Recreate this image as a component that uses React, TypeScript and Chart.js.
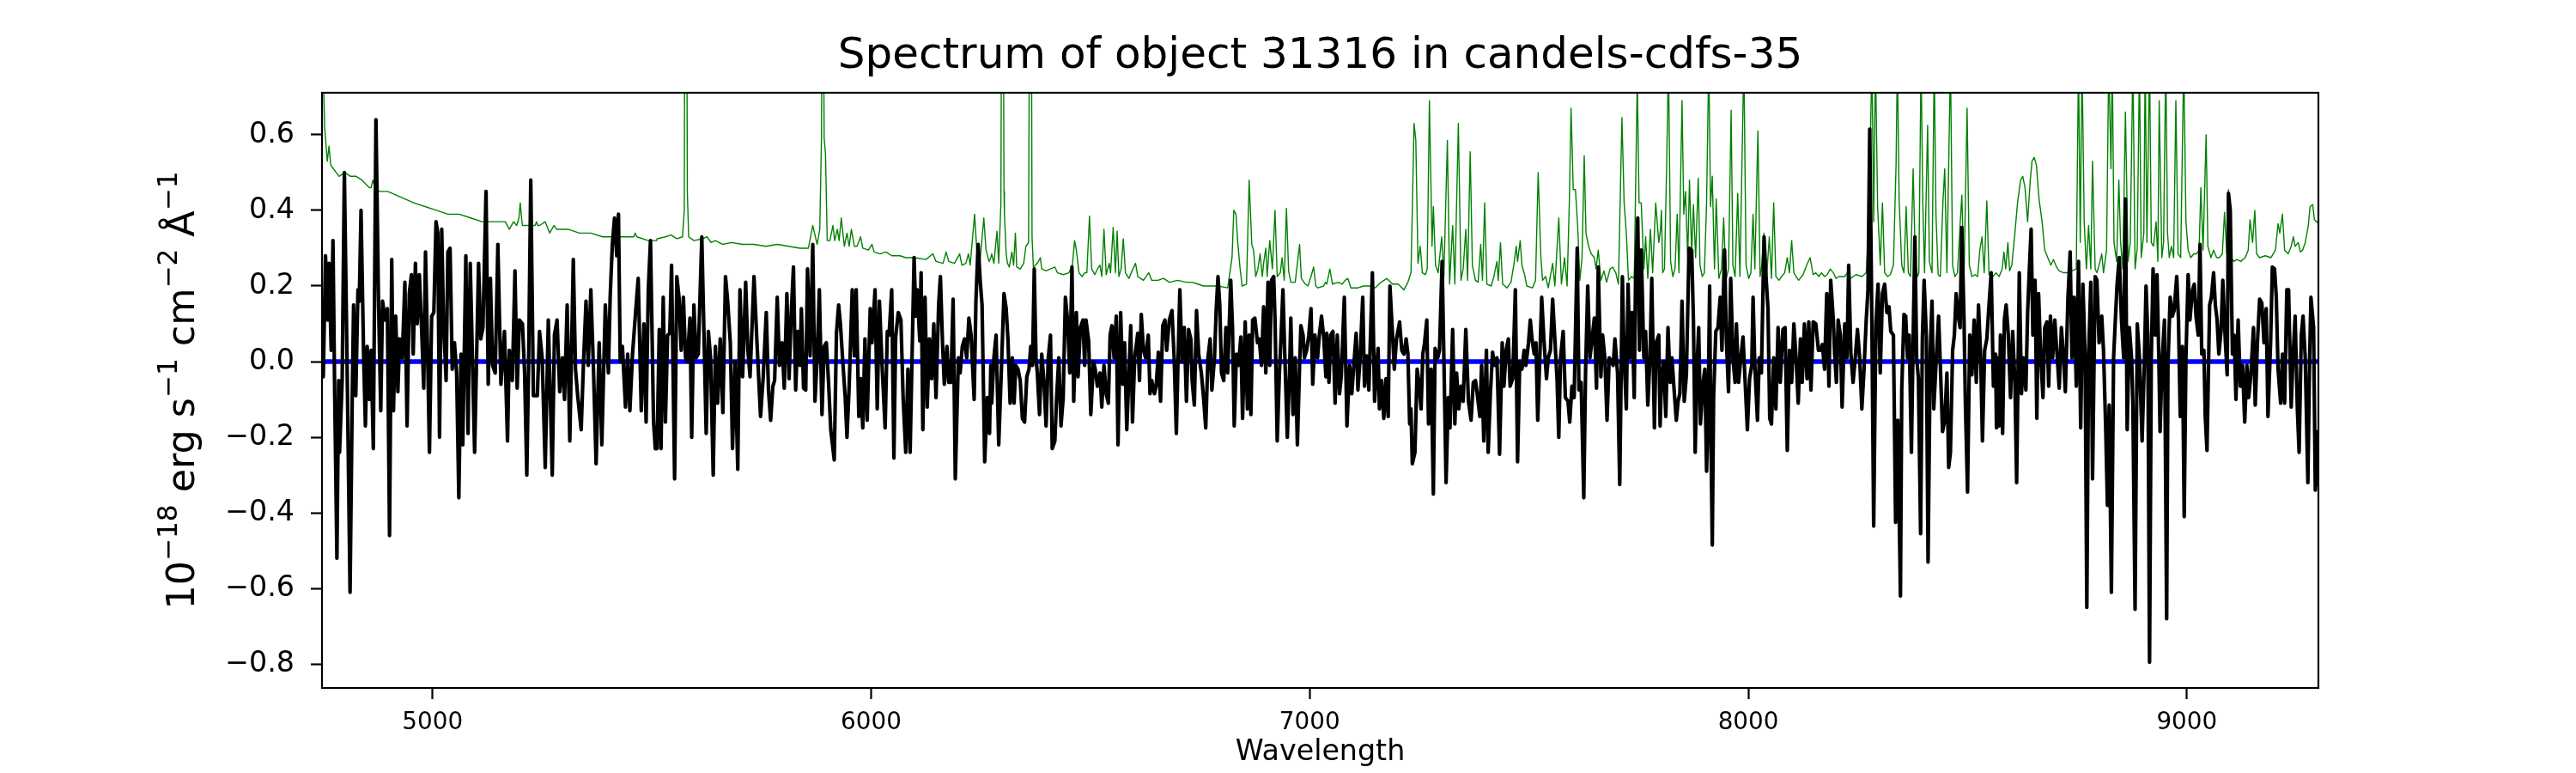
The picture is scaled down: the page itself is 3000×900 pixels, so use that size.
import { useEffect, useRef } from "react";
import { Chart, registerables } from "chart.js";

Chart.register(...registerables);

const FONT = "'DejaVu Sans', sans-serif";

const titleText: string = "Spectrum of object 31316 in candels-cdfs-35";
const xLabel: string = "Wavelength";
const xTickValues: number[] = [5000, 6000, 7000, 8000, 9000];
const yTickValues: number[] = [-0.8, -0.6, -0.4, -0.2, 0.0, 0.2, 0.4, 0.6];
const waveLimits: number[] = [4748, 9300];
const fluxLimits: number[] = [-0.863, 0.711];

// object flux (black), [wavelength, flux] in six pieces
const flux4750: [number, number][] = [
  [4748,0.01],[4751,-0.04],[4756,0.28],[4761,0.11],[4764,0.26],[4769,0.03],[4773,0.32],[4777,-0.09],[4782,-0.52],[4786,-0.05],
  [4788,-0.24],[4794,-0.05],[4799,0.50],[4805,0.01],[4812,-0.61],[4817,-0.09],[4820,0.15],[4825,-0.09],[4830,0.19],[4833,0.16],
  [4837,0.40],[4843,0.01],[4847,-0.17],[4851,0.04],[4856,-0.10],[4860,0.03],[4865,-0.23],[4871,0.64],[4877,0.15],[4882,-0.13],
  [4886,0.16],[4892,0.11],[4897,0.14],[4902,-0.46],[4907,0.27],[4911,-0.13],[4916,0.12],[4921,-0.08],[4925,0.06],[4931,0.01],
  [4937,0.21],[4942,-0.17],[4947,0.18],[4952,0.23],[4956,0.02],[4961,0.26],[4965,0.10],[4970,0.23],[4975,0.09],[4980,-0.07],
  [4984,0.29],[4989,0.01],[4993,-0.24],[4998,0.12],[5003,0.13],[5008,0.37],[5012,0.34],[5016,-0.20],[5021,0.35],[5025,0.11],
  [5031,-0.05],[5035,0.29],[5040,0.30],[5045,-0.02],[5050,0.05],[5055,-0.03],[5060,-0.36],[5065,0.02],[5069,-0.22],[5076,0.28],
  [5081,-0.19],[5086,0.26],[5091,0.01],[5096,-0.24],[5105,0.26],[5110,0.06],[5115,0.09],[5122,0.45],[5127,-0.06],[5132,0.22],
  [5137,-0.01],[5143,-0.03],[5149,0.31],[5156,-0.06],[5164,0.08],[5171,-0.21],[5175,0.03],[5182,-0.05],[5188,0.24],[5193,-0.07],
  [5198,0.11],[5205,0.10],[5210,-0.03],[5215,-0.30],[5219,-0.01],[5224,0.48],[5230,-0.09],[5234,-0.09],[5239,-0.09],[5244,0.08],
  [5250,0.01],[5257,-0.28],[5264,0.11],[5268,-0.07],[5273,-0.30],[5278,0.07],[5284,0.11],[5290,-0.08],[5296,0.01],[5301,-0.10],
  [5307,0.15],[5313,-0.21],[5321,0.27],[5326,-0.02],[5331,-0.09],[5339,-0.18],[5344,-0.01],[5350,0.16],[5355,-0.01],[5361,0.19],
  [5367,-0.02],[5373,-0.27],[5380,0.05],[5386,-0.22],[5394,0.15],[5401,-0.03],[5405,0.17],[5410,0.31],[5415,0.38],[5420,0.28],
  [5424,0.39],[5428,0.00],[5433,0.04],[5440,-0.12],[5445,0.02],[5450,-0.13],[5456,0.02],[5463,0.13],[5469,0.22],[5476,-0.13],
  [5482,0.10],[5487,-0.16],[5492,0.19],[5497,0.32],[5504,-0.16],[5508,-0.23],
];

const flux5500: [number, number][] = [
  [5512,-0.23],[5517,0.085],[5521,-0.23],[5526,0.17],[5531,-0.16],[5536,0.07],[5541,0.075],[5545,0.255],[5552,-0.31],[5557,0.225],
  [5562,0.17],[5567,0.03],[5572,0.17],[5577,0.01],[5581,0.0],[5587,0.115],[5591,-0.20],[5596,0.15],[5601,0.01],[5606,0.02],
  [5614,0.33],[5619,0.07],[5624,-0.19],[5629,0.08],[5634,0.01],[5640,-0.30],[5645,0.04],[5650,-0.11],[5656,0.06],[5662,-0.135],
  [5668,0.225],[5673,0.16],[5679,0.05],[5684,-0.23],[5690,0.0],[5696,-0.285],[5701,0.19],[5707,-0.04],[5714,0.21],[5719,0.03],
  [5724,-0.04],[5733,0.225],[5740,0.045],[5748,-0.145],[5754,-0.04],[5761,0.13],[5766,-0.075],[5771,-0.155],[5776,-0.065],[5780,-0.05],
  [5786,0.17],[5791,-0.01],[5797,0.05],[5802,-0.07],[5808,0.18],[5813,-0.045],[5818,0.13],[5823,0.25],[5828,-0.075],[5833,0.08],
  [5838,-0.01],[5841,0.14],[5846,-0.07],[5851,-0.075],[5855,0.245],[5861,0.015],[5867,0.31],[5872,-0.105],[5877,0.01],[5882,0.19],
  [5888,-0.14],[5893,0.04],[5898,0.05],[5903,-0.055],[5908,-0.18],[5916,-0.26],[5921,0.075],[5926,0.15],[5930,0.10],[5936,-0.01],
  [5941,-0.095],[5945,-0.20],[5950,-0.065],[5957,0.19],[5962,0.015],[5966,0.19],[5972,-0.145],[5976,-0.045],[5981,-0.175],[5986,0.06],
  [5991,-0.155],[5998,0.14],[6002,0.05],[6009,0.19],[6014,-0.125],[6019,0.16],[6025,-0.01],[6032,-0.175],[6037,0.08],[6041,0.07],
  [6047,0.19],[6052,-0.255],[6056,0.065],[6062,0.13],[6068,0.11],[6073,-0.095],[6079,-0.24],[6084,-0.02],[6089,-0.24],[6098,0.275],
  [6102,0.12],[6105,0.19],[6111,0.055],[6114,0.235],[6118,-0.18],[6123,0.17],[6128,-0.12],[6133,0.06],[6138,-0.045],[6143,0.10],
  [6148,-0.095],[6154,0.15],[6158,0.225],[6163,0.045],[6167,-0.06],[6173,0.04],[6177,-0.055],[6182,-0.055],[6187,0.165],[6192,-0.31],
  [6199,0.01],[6203,-0.03],[6208,0.04],[6213,0.06],[6218,0.01],[6223,0.115],[6228,0.07],[6235,-0.10],[6239,0.16],[6244,0.31],
  [6249,0.21],[6253,0.15],[6259,-0.265],[6265,-0.095],[6270,-0.19],[6273,-0.01],
];

const flux6275: [number, number][] = [
  [6275,-0.11],[6280,0.01],[6285,0.07],[6291,-0.22],[6298,0.01],[6303,0.18],[6308,0.14],[6312,0.06],[6317,-0.11],[6322,0.01],
  [6326,-0.11],[6330,-0.01],[6335,-0.02],[6340,-0.05],[6345,-0.15],[6350,-0.16],[6355,-0.04],[6360,-0.02],[6364,0.04],[6368,-0.01],
  [6372,0.245],[6376,0.01],[6379,-0.03],[6384,-0.14],[6389,0.02],[6394,-0.05],[6399,-0.17],[6404,0.01],[6409,0.07],[6413,-0.23],
  [6419,-0.21],[6423,-0.095],[6428,0.01],[6433,-0.17],[6438,-0.095],[6443,0.17],[6448,0.11],[6453,-0.03],[6458,0.25],[6462,-0.105],
  [6468,0.13],[6472,-0.04],[6477,0.09],[6483,0.11],[6487,-0.01],[6490,0.11],[6496,0.055],[6501,-0.14],[6507,0.0],[6511,-0.02],
  [6516,-0.065],[6522,-0.03],[6526,-0.12],[6531,-0.01],[6536,-0.085],[6541,-0.11],[6545,0.07],[6549,0.095],[6554,0.01],[6559,0.12],
  [6563,-0.22],[6569,0.13],[6574,-0.06],[6578,0.05],[6583,-0.18],[6588,-0.03],[6592,0.095],[6596,-0.16],[6601,0.01],[6608,0.075],
  [6612,-0.05],[6616,0.125],[6621,0.03],[6626,0.01],[6632,0.07],[6636,-0.085],[6640,-0.05],[6646,-0.085],[6650,-0.065],[6655,0.025],
  [6660,-0.105],[6665,0.095],[6670,0.11],[6674,0.03],[6680,0.11],[6686,0.135],[6691,0.01],[6696,-0.19],[6700,0.01],[6704,0.19],
  [6709,0.0],[6714,0.09],[6719,-0.105],[6724,0.085],[6729,0.06],[6732,-0.05],[6737,-0.115],[6742,0.135],[6747,0.02],[6753,-0.03],
  [6758,-0.095],[6763,-0.175],[6768,0.01],[6773,0.06],[6777,-0.075],[6783,0.01],[6787,0.14],[6791,0.225],[6795,0.15],[6799,-0.03],
  [6804,-0.05],[6809,0.09],[6813,-0.03],[6820,0.215],[6824,0.09],[6828,-0.17],[6833,0.02],[6838,-0.01],[6843,0.065],[6847,-0.15],
  [6853,0.105],[6858,-0.125],[6862,0.07],[6866,-0.14],[6870,0.11],[6875,0.115],[6881,0.05],[6885,0.06],[6890,-0.01],[6895,0.145],
  [6900,-0.03],[6905,0.21],[6909,-0.01],[6913,0.215],[6918,0.225],[6921,0.11],[6926,-0.21],[6931,-0.03],[6935,0.07],[6939,0.19],
  [6944,-0.01],[6949,-0.20],[6954,-0.03],[6957,0.115],[6962,-0.14],[6967,0.01],[6972,-0.22],[6977,-0.01],[6980,0.095],[6985,0.07],
  [6988,0.01],[6993,0.03],[6998,0.07],[7003,0.14],[7007,-0.06],[7012,0.07],[7018,0.01],[7022,0.07],[7027,0.12],[7032,0.065],
  [7037,-0.04],
];

const flux7040: [number, number][] = [
  [7039,0.075],[7044,-0.055],[7048,0.07],[7053,0.08],[7058,-0.11],[7063,0.07],[7068,-0.085],[7072,-0.04],[7079,0.17],[7085,-0.17],
  [7091,-0.01],[7096,-0.085],[7100,-0.02],[7106,0.075],[7110,-0.075],[7115,0.01],[7121,0.17],[7125,-0.065],[7130,0.015],[7135,-0.075],
  [7143,0.235],[7148,-0.105],[7153,-0.01],[7156,0.035],[7159,-0.125],[7164,-0.05],[7169,-0.15],[7174,-0.045],[7179,-0.145],[7183,0.20],
  [7189,0.07],[7193,-0.02],[7198,0.06],[7205,0.105],[7210,0.03],[7215,0.02],[7220,0.06],[7224,0.02],[7228,-0.165],[7231,-0.125],
  [7234,-0.27],[7240,-0.24],[7245,-0.02],[7249,-0.055],[7254,-0.125],[7258,0.02],[7262,0.05],[7267,0.11],[7271,-0.165],[7277,-0.02],
  [7282,-0.35],[7286,0.035],[7292,0.01],[7296,0.03],[7302,0.265],[7306,0.01],[7311,-0.32],[7316,-0.095],[7320,-0.175],[7326,0.085],
  [7331,-0.165],[7335,-0.03],[7340,-0.125],[7345,-0.065],[7350,-0.105],[7356,0.085],[7362,-0.105],[7368,-0.155],[7373,-0.055],[7378,-0.05],
  [7382,-0.085],[7388,-0.145],[7392,-0.01],[7397,-0.21],[7403,0.03],[7407,-0.24],[7412,-0.085],[7417,0.025],[7422,-0.01],[7427,0.01],
  [7433,-0.245],[7439,0.05],[7443,-0.065],[7448,0.03],[7453,0.06],[7457,-0.065],[7463,-0.045],[7469,0.19],[7474,-0.265],[7479,0.0],
  [7484,-0.02],[7489,0.03],[7493,-0.01],[7499,0.05],[7503,0.11],[7507,0.06],[7512,0.02],[7516,0.05],[7520,-0.155],[7525,0.02],
  [7529,0.17],[7534,0.06],[7540,-0.045],[7544,0.01],[7549,0.03],[7554,0.165],[7559,0.06],[7564,-0.045],[7568,-0.20],[7572,0.01],
  [7578,0.08],[7583,-0.095],[7589,-0.105],[7593,-0.16],[7598,-0.065],[7603,-0.095],[7610,0.30],[7614,-0.075],[7619,-0.055],[7625,-0.36],
  [7629,-0.03],[7634,0.20],[7639,0.01],[7644,0.06],[7649,0.115],[7654,-0.07],[7658,0.25],[7664,-0.04],[7668,0.07],[7673,0.01],
  [7678,-0.155],[7683,0.01],[7688,0.0],[7692,-0.01],[7696,0.06],[7702,-0.03],[7707,-0.325],[7713,0.225],[7717,0.01],[7722,-0.125],
  [7726,0.205],[7730,0.01],[7735,0.13],[7740,-0.095],[7743,0.215],[7748,0.38],[7752,0.03],[7756,0.295],[7762,0.01],[7766,0.08],
  [7771,-0.115],[7776,0.01],[7780,0.22],[7786,-0.175],[7790,0.05],[7796,0.07],[7799,-0.17],[7802,-0.055],
];

const flux7800: [number, number][] = [
  [7807,0.0],[7812,-0.145],[7817,0.09],[7822,-0.055],[7826,0.01],[7831,-0.075],[7836,-0.155],[7840,-0.105],[7844,-0.085],[7849,0.16],
  [7854,-0.105],[7859,-0.035],[7865,0.30],[7871,0.295],[7875,0.11],[7879,-0.24],[7884,0.01],[7887,0.09],[7891,-0.165],[7897,-0.055],
  [7901,-0.02],[7905,-0.29],[7908,-0.165],[7912,0.20],[7914,-0.115],[7918,-0.485],[7921,-0.095],[7926,0.08],[7931,0.09],[7936,0.17],
  [7940,0.03],[7946,0.295],[7950,0.06],[7955,-0.08],[7960,0.22],[7965,0.01],[7970,-0.055],[7973,0.10],[7978,-0.055],[7983,0.01],
  [7988,0.065],[7993,-0.055],[7998,-0.18],[8003,-0.045],[8008,-0.01],[8011,0.17],[8015,-0.01],[8021,-0.155],[8025,0.01],[8030,-0.03],
  [8036,0.33],[8040,0.235],[8045,0.14],[8049,-0.15],[8053,-0.165],[8058,0.01],[8063,-0.125],[8068,0.09],[8073,-0.055],[8079,0.085],
  [8084,0.09],[8089,-0.235],[8094,0.03],[8099,-0.055],[8104,0.10],[8109,0.01],[8114,-0.11],[8119,0.06],[8123,-0.055],[8128,0.10],
  [8134,-0.045],[8138,0.105],[8143,-0.075],[8148,0.105],[8154,0.10],[8160,0.03],[8164,0.03],[8169,0.045],[8174,-0.02],[8179,0.18],
  [8184,-0.065],[8188,0.215],[8194,0.11],[8197,0.02],[8201,-0.055],[8205,0.11],[8210,0.07],[8214,-0.12],[8220,0.10],[8225,0.01],
  [8229,0.255],[8234,0.02],[8239,-0.055],[8244,0.01],[8249,0.085],[8254,0.01],[8259,-0.125],[8264,-0.02],[8269,0.11],[8273,0.19],
  [8277,0.615],[8282,0.09],[8286,-0.435],[8291,0.10],[8296,0.205],[8301,-0.03],[8306,0.18],[8311,0.205],[8316,0.13],[8321,0.145],
  [8325,0.08],[8331,0.07],[8336,-0.425],[8341,-0.155],[8347,-0.62],[8350,-0.075],[8355,0.125],[8359,0.12],[8363,0.01],[8367,0.07],
  [8372,-0.24],[8376,0.06],[8380,0.33],[8384,0.01],[8388,-0.045],[8393,-0.455],[8397,0.06],[8401,0.215],[8406,0.07],[8410,-0.53],
  [8415,0.03],[8419,0.16],[8423,-0.125],[8428,-0.01],[8434,0.12],[8438,-0.01],[8443,-0.185],[8448,-0.155],[8453,-0.03],[8457,-0.28],
  [8461,-0.24],[8466,0.03],[8470,0.07],[8474,0.18],[8479,0.12],[8483,0.09],[8487,0.355],[8492,0.11],[8495,-0.105],[8500,-0.345],
  [8505,0.07],[8510,-0.035],[8515,0.11],[8520,-0.055],[8525,0.15],[8530,0.01],[8534,-0.21],[8539,0.03],[8544,0.06],[8549,0.15],
  [8554,0.235],[8559,-0.065],[8564,0.02],
];

const flux8565: [number, number][] = [
  [8566,-0.175],[8569,0.01],[8572,-0.17],[8575,0.07],[8580,-0.19],[8584,0.11],[8588,0.15],[8593,0.07],[8598,-0.095],[8603,0.08],
  [8608,-0.055],[8612,-0.32],[8618,0.235],[8623,-0.085],[8627,0.01],[8633,-0.075],[8637,0.13],[8641,0.245],[8645,0.35],[8649,0.07],
  [8654,0.215],[8658,-0.15],[8662,0.18],[8667,0.01],[8672,-0.095],[8676,0.09],[8681,0.105],[8685,-0.065],[8689,0.12],[8694,0.01],
  [8699,0.11],[8704,0.02],[8709,-0.07],[8714,0.09],[8719,0.01],[8723,-0.08],[8729,0.17],[8734,0.29],[8738,0.01],[8743,0.17],
  [8748,-0.065],[8753,0.265],[8758,-0.175],[8763,0.205],[8768,0.02],[8772,-0.65],[8776,0.01],[8781,0.21],[8785,-0.31],[8791,0.225],
  [8795,0.215],[8800,0.05],[8806,0.12],[8810,0.03],[8815,-0.175],[8819,-0.38],[8823,-0.115],[8828,-0.61],[8833,0.01],[8836,0.085],
  [8841,0.205],[8846,0.275],[8851,0.11],[8856,0.01],[8860,0.43],[8864,-0.18],[8869,0.09],[8874,0.01],[8877,-0.115],[8882,-0.655],
  [8887,0.10],[8892,0.01],[8898,-0.21],[8903,-0.01],[8907,0.20],[8911,0.07],[8915,-0.795],[8919,0.01],[8923,0.245],[8928,0.07],
  [8932,0.23],[8936,0.02],[8939,-0.185],[8944,0.01],[8949,0.11],[8954,-0.68],[8957,-0.01],[8962,0.17],[8967,0.12],[8971,0.135],
  [8977,0.225],[8981,0.11],[8985,-0.145],[8990,0.04],[8994,-0.41],[8998,0.01],[9003,0.23],[9007,0.11],[9013,0.19],[9017,0.205],
  [9021,0.12],[9026,0.07],[9030,0.31],[9034,0.02],[9039,0.03],[9042,-0.145],[9046,-0.235],[9052,0.15],[9056,0.17],[9061,0.235],
  [9065,0.15],[9069,0.11],[9073,0.02],[9078,0.08],[9082,0.215],[9088,0.05],[9092,-0.035],[9095,0.445],[9099,0.40],[9104,0.02],
  [9108,0.07],[9112,-0.10],[9117,0.11],[9122,-0.065],[9127,-0.01],[9132,-0.16],[9137,-0.01],[9141,-0.095],[9146,-0.035],[9152,0.09],
  [9156,-0.115],[9161,0.05],[9166,0.165],[9171,0.155],[9176,0.05],[9181,0.14],[9185,-0.145],[9191,0.05],[9195,0.25],[9200,0.245],
  [9204,0.17],[9208,-0.02],[9214,-0.11],[9218,0.02],[9223,-0.11],[9228,0.19],[9232,0.19],[9238,-0.12],[9242,0.01],[9247,0.12],
  [9252,-0.125],[9256,-0.24],[9261,0.07],[9265,0.12],[9270,0.01],[9276,-0.32],[9280,0.01],[9283,0.17],[9289,0.09],[9293,-0.34],
  [9296,-0.185],[9301,-0.33],
];

// noise / sky spectrum (green)
const sky4750: [number, number][] = [
  [4748,0.9],[4754,0.62],[4760,0.53],[4764,0.57],[4768,0.52],[4774,0.51],[4787,0.49],[4800,0.50],[4813,0.49],[4826,0.49],
  [4839,0.48],[4856,0.46],[4860,0.46],[4864,0.48],[4869,0.46],[4879,0.45],[4898,0.45],[4918,0.44],[4937,0.43],[4957,0.42],
  [4983,0.41],[5009,0.40],[5035,0.39],[5061,0.39],[5087,0.38],[5113,0.37],[5140,0.37],[5166,0.37],[5175,0.35],[5185,0.37],
  [5192,0.36],[5197,0.38],[5200,0.42],[5203,0.38],[5205,0.36],[5218,0.36],[5234,0.36],[5237,0.37],[5240,0.36],[5244,0.36],
  [5257,0.37],[5267,0.34],[5277,0.36],[5283,0.35],[5309,0.35],[5335,0.34],[5361,0.34],[5388,0.33],[5414,0.33],[5440,0.33],
  [5459,0.33],[5462,0.34],[5466,0.33],[5492,0.32],[5511,0.32],
];

const sky5500: [number, number][] = [
  [5512,0.325],[5531,0.33],[5544,0.335],[5557,0.325],[5570,0.33],[5574,0.4],[5576,1.3],[5579,1.3],[5581,0.45],[5584,0.33],
  [5596,0.32],[5616,0.325],[5626,0.33],[5635,0.315],[5645,0.32],[5662,0.31],[5681,0.315],[5707,0.31],[5733,0.31],[5760,0.305],
  [5786,0.31],[5812,0.305],[5838,0.30],[5857,0.30],[5867,0.36],[5877,0.31],[5883,0.35],[5887,0.6],[5889,1.3],[5891,1.0],
  [5893,0.59],[5896,0.55],[5900,0.32],[5906,0.32],[5913,0.36],[5917,0.32],[5923,0.35],[5927,0.32],[5932,0.38],[5939,0.305],
  [5945,0.34],[5950,0.305],[5955,0.35],[5962,0.305],[5968,0.305],[5976,0.33],[5981,0.30],[5994,0.295],[6002,0.31],[6007,0.29],
  [6020,0.285],[6034,0.29],[6047,0.28],[6066,0.28],[6079,0.275],[6099,0.275],[6125,0.27],[6141,0.285],[6148,0.265],[6164,0.26],
  [6171,0.29],[6177,0.265],[6190,0.26],[6202,0.285],[6207,0.255],[6216,0.26],[6222,0.285],[6226,0.255],[6236,0.39],[6242,0.275],
  [6248,0.26],[6257,0.38],[6262,0.295],[6269,0.265],[6273,0.275],
];

const sky6275: [number, number][] = [
  [6275,0.285],[6280,0.26],[6287,0.345],[6291,0.26],[6296,0.42],[6298,1.2],[6301,1.2],[6303,0.45],[6304,0.39],[6308,0.285],
  [6311,0.26],[6315,0.25],[6321,0.29],[6325,0.255],[6329,0.34],[6332,0.25],[6340,0.245],[6348,0.26],[6353,0.305],[6359,0.315],
  [6362,1.2],[6365,1.2],[6367,0.33],[6370,0.25],[6379,0.26],[6386,0.275],[6389,0.245],[6399,0.24],[6409,0.245],[6419,0.25],
  [6425,0.235],[6438,0.23],[6451,0.235],[6459,0.255],[6464,0.32],[6468,0.295],[6474,0.235],[6481,0.225],[6487,0.235],[6492,0.235],
  [6498,0.385],[6503,0.245],[6510,0.23],[6516,0.245],[6522,0.255],[6526,0.225],[6531,0.35],[6536,0.23],[6543,0.26],[6546,0.235],
  [6552,0.355],[6557,0.235],[6561,0.345],[6565,0.225],[6570,0.245],[6575,0.325],[6580,0.235],[6588,0.22],[6595,0.24],[6603,0.26],
  [6608,0.225],[6621,0.215],[6633,0.235],[6640,0.215],[6654,0.215],[6667,0.22],[6680,0.21],[6699,0.215],[6719,0.21],[6732,0.21],
  [6745,0.205],[6758,0.20],[6771,0.20],[6791,0.20],[6813,0.195],[6823,0.275],[6827,0.40],[6832,0.39],[6836,0.315],[6841,0.25],
  [6846,0.20],[6856,0.205],[6862,0.48],[6868,0.31],[6872,0.295],[6877,0.225],[6882,0.245],[6887,0.285],[6892,0.225],[6895,0.26],
  [6900,0.30],[6903,0.225],[6909,0.32],[6915,0.245],[6921,0.40],[6926,0.225],[6933,0.235],[6937,0.275],[6942,0.215],[6947,0.405],
  [6952,0.24],[6957,0.21],[6967,0.21],[6977,0.31],[6981,0.22],[6990,0.205],[6996,0.20],[7003,0.225],[7009,0.25],[7014,0.20],
  [7019,0.195],[7032,0.20],[7036,0.21],
];

const sky7040: [number, number][] = [
  [7039,0.205],[7046,0.245],[7052,0.205],[7065,0.21],[7074,0.205],[7081,0.215],[7087,0.22],[7094,0.195],[7110,0.195],[7123,0.20],
  [7136,0.20],[7149,0.195],[7163,0.21],[7176,0.22],[7189,0.205],[7202,0.205],[7215,0.19],[7224,0.21],[7231,0.235],[7234,0.40],
  [7238,0.63],[7242,0.585],[7247,0.26],[7252,0.305],[7257,0.235],[7264,0.23],[7268,0.245],[7273,0.69],[7279,0.305],[7282,0.41],
  [7287,0.255],[7293,0.235],[7301,0.33],[7306,0.225],[7314,0.585],[7319,0.205],[7326,0.36],[7331,0.205],[7339,0.63],[7345,0.215],
  [7350,0.245],[7356,0.35],[7360,0.215],[7366,0.555],[7371,0.255],[7378,0.215],[7384,0.21],[7390,0.31],[7394,0.215],[7399,0.42],
  [7404,0.205],[7414,0.20],[7420,0.225],[7427,0.265],[7430,0.215],[7435,0.315],[7440,0.205],[7450,0.195],[7459,0.21],[7466,0.26],
  [7471,0.305],[7474,0.265],[7480,0.32],[7484,0.255],[7490,0.23],[7495,0.20],[7508,0.195],[7515,0.215],[7521,0.50],[7527,0.28],
  [7531,0.215],[7538,0.225],[7544,0.195],[7554,0.26],[7559,0.20],[7568,0.38],[7574,0.205],[7581,0.275],[7587,0.20],[7592,0.42],
  [7596,0.67],[7601,0.455],[7606,0.455],[7611,0.36],[7616,0.215],[7621,0.275],[7626,0.545],[7630,0.34],[7636,0.305],[7642,0.285],
  [7649,0.275],[7653,0.245],[7658,0.295],[7664,0.215],[7671,0.24],[7677,0.21],[7685,0.245],[7691,0.25],[7698,0.235],[7704,0.205],
  [7712,0.645],[7717,0.42],[7722,0.34],[7727,0.215],[7734,0.225],[7740,0.22],[7747,0.75],[7751,0.42],[7756,0.42],[7762,0.245],
  [7766,0.33],[7771,0.22],[7777,0.35],[7782,0.235],[7789,0.42],[7796,0.315],[7800,0.35],
];

const sky7800: [number, number][] = [
  [7802,0.40],[7805,0.235],[7809,0.245],[7814,0.52],[7818,0.8],[7823,0.265],[7828,0.225],[7833,0.245],[7838,0.39],[7842,0.235],
  [7849,0.69],[7853,0.39],[7857,0.45],[7862,0.275],[7866,0.48],[7871,0.285],[7875,0.415],[7880,0.275],[7886,0.485],[7890,0.255],
  [7895,0.225],[7900,0.235],[7905,0.42],[7910,0.8],[7914,0.41],[7918,0.49],[7923,0.245],[7927,0.43],[7933,0.22],[7939,0.245],
  [7944,0.38],[7949,0.215],[7955,0.245],[7961,0.665],[7965,0.255],[7970,0.225],[7976,0.445],[7981,0.225],[7990,0.8],[7995,0.255],
  [8001,0.22],[8006,0.235],[8011,0.39],[8015,0.245],[8022,0.61],[8027,0.225],[8030,0.245],[8036,0.34],[8042,0.225],[8048,0.33],
  [8053,0.22],[8058,0.42],[8063,0.225],[8070,0.215],[8076,0.225],[8083,0.235],[8089,0.275],[8094,0.235],[8099,0.32],[8104,0.235],
  [8109,0.225],[8115,0.215],[8125,0.23],[8135,0.26],[8141,0.275],[8148,0.23],[8154,0.235],[8161,0.225],[8167,0.235],[8174,0.225],
  [8180,0.23],[8187,0.245],[8194,0.235],[8200,0.22],[8207,0.225],[8220,0.225],[8226,0.235],[8233,0.22],[8246,0.23],[8259,0.225],
  [8269,0.235],[8275,0.37],[8282,0.8],[8286,0.37],[8290,0.8],[8295,0.41],[8301,0.255],[8306,0.42],[8311,0.235],[8318,0.225],
  [8324,0.23],[8331,0.255],[8337,0.52],[8340,0.8],[8344,0.43],[8350,0.255],[8355,0.235],[8360,0.41],[8365,0.235],[8370,0.225],
  [8376,0.51],[8381,0.265],[8386,0.225],[8389,0.235],[8394,0.8],[8398,0.42],[8402,0.235],[8409,0.625],[8413,0.265],[8419,0.235],
  [8424,0.8],[8428,0.39],[8433,0.23],[8438,0.225],[8444,0.425],[8448,0.51],[8453,0.235],[8461,0.8],[8466,0.255],[8471,0.225],
  [8477,0.235],[8483,0.36],[8487,0.44],[8492,0.225],[8499,0.67],[8504,0.255],[8510,0.225],[8517,0.23],[8523,0.225],[8528,0.295],
  [8533,0.33],[8538,0.235],[8544,0.425],[8549,0.23],[8558,0.225],[8565,0.235],
];

const sky8565: [number, number][] = [
  [8572,0.225],[8579,0.245],[8583,0.29],[8587,0.245],[8592,0.315],[8596,0.24],[8601,0.255],[8608,0.34],[8614,0.42],[8621,0.48],
  [8626,0.49],[8631,0.46],[8637,0.37],[8643,0.48],[8647,0.53],[8652,0.54],[8657,0.52],[8663,0.43],[8670,0.37],[8676,0.295],
  [8683,0.275],[8690,0.255],[8696,0.27],[8703,0.25],[8709,0.24],[8719,0.235],[8729,0.235],[8738,0.24],[8748,0.245],[8753,0.8],
  [8757,0.315],[8761,0.8],[8766,0.37],[8771,0.245],[8776,0.36],[8781,0.245],[8785,0.53],[8791,0.245],[8795,0.235],[8800,0.255],
  [8806,0.285],[8810,0.235],[8817,0.295],[8822,0.8],[8827,0.51],[8830,0.8],[8834,0.315],[8840,0.265],[8845,0.48],[8849,0.315],
  [8854,0.245],[8860,0.66],[8866,0.265],[8871,0.315],[8877,0.8],[8882,0.245],[8887,0.30],[8892,0.8],[8896,0.275],[8902,0.34],
  [8905,0.8],[8909,0.315],[8915,0.8],[8919,0.315],[8924,0.305],[8930,0.37],[8934,0.265],[8937,0.69],[8943,0.275],[8947,0.315],
  [8952,0.8],[8956,0.34],[8960,0.275],[8965,0.305],[8970,0.275],[8975,0.69],[8980,0.285],[8986,0.275],[8993,0.8],[8998,0.37],
  [9003,0.295],[9009,0.275],[9016,0.285],[9022,0.285],[9028,0.295],[9032,0.46],[9037,0.295],[9044,0.60],[9048,0.305],[9055,0.275],
  [9061,0.295],[9068,0.275],[9074,0.275],[9081,0.285],[9086,0.395],[9091,0.285],[9095,0.455],[9101,0.275],[9107,0.265],[9114,0.27],
  [9123,0.265],[9133,0.275],[9140,0.295],[9144,0.375],[9150,0.315],[9155,0.40],[9159,0.285],[9166,0.275],[9179,0.28],[9192,0.275],
  [9202,0.295],[9208,0.365],[9212,0.34],[9218,0.39],[9223,0.295],[9231,0.285],[9238,0.305],[9243,0.33],[9247,0.305],[9254,0.315],
  [9259,0.29],[9264,0.295],[9270,0.315],[9277,0.36],[9281,0.41],[9287,0.415],[9291,0.375],[9296,0.37],[9301,0.365],
];

// zero line (blue)
const modelWave: number[] = [4748, 9300];
const modelFlux: number[] = [0, 0];

const objectFlux = [...flux4750, ...flux5500, ...flux6275, ...flux7040, ...flux7800, ...flux8565];
const skyFlux = [...sky4750, ...sky5500, ...sky6275, ...sky7040, ...sky7800, ...sky8565];

const toPoints = (pts: [number, number][]) => pts.map(([x, y]) => ({ x, y }));

// y-axis label with superscripts, like matplotlib mathtext
const yLabelParts = [
  { text: "10", sup: false },
  { text: "\u221218", sup: true },
  { text: " erg s", sup: false },
  { text: "\u22121", sup: true },
  { text: " cm", sup: false },
  { text: "\u22122", sup: true },
  { text: " \u00c5", sup: false },
  { text: "\u22121", sup: true },
];

const yLabelPlugin = {
  id: "yLabel",
  afterDraw(chart: any) {
    const { ctx, chartArea } = chart;
    const base = 44.4;
    const small = base * 0.7;
    ctx.save();
    let total = 0;
    const widths = yLabelParts.map((p) => {
      ctx.font = `${p.sup ? small : base}px ${FONT}`;
      const w = ctx.measureText(p.text).width;
      total += w;
      return w;
    });
    ctx.translate(226, (chartArea.top + chartArea.bottom) / 2);
    ctx.rotate(-Math.PI / 2);
    ctx.fillStyle = "#000";
    ctx.textBaseline = "alphabetic";
    ctx.textAlign = "left";
    let x = -total / 2;
    yLabelParts.forEach((p, i) => {
      ctx.font = `${p.sup ? small : base}px ${FONT}`;
      ctx.fillText(p.text, x, p.sup ? -base * 0.45 : 0);
      x += widths[i];
    });
    ctx.restore();
  },
};

// axes box on all four sides
const framePlugin = {
  id: "frame",
  afterDraw(chart: any) {
    const { ctx, chartArea } = chart;
    ctx.save();
    ctx.strokeStyle = "#000";
    ctx.lineWidth = 2.2;
    ctx.strokeRect(chartArea.left, chartArea.top, chartArea.right - chartArea.left, chartArea.bottom - chartArea.top);
    ctx.restore();
  },
};

const tickGrid = {
  display: true,
  drawOnChartArea: false,
  drawTicks: true,
  tickLength: 13,
  tickWidth: 2.2,
  tickColor: "#000",
};

const App: React.FC = () => {
  const chartRef = useRef<HTMLCanvasElement | null>(null);

  useEffect(() => {
    const lineStyle = { pointRadius: 0, tension: 0, borderJoinStyle: "round", clip: 0, fill: false };

    const myChart = new Chart(chartRef.current!, {
      type: "line",
      data: {
        datasets: [
          { label: "flux", data: toPoints(objectFlux), borderColor: "#000000", borderWidth: 4.2, ...lineStyle },
          { label: "sky", data: toPoints(skyFlux), borderColor: "#008000", borderWidth: 1.4, ...lineStyle },
          {
            label: "model",
            data: modelWave.map((x, i) => ({ x, y: modelFlux[i] })),
            borderColor: "#0000ff",
            borderWidth: 5.6,
            ...lineStyle,
          },
        ],
      },
      options: {
        animation: false,
        responsive: false,
        devicePixelRatio: 1,
        events: [],
        layout: { padding: { top: 0, left: 0, right: 300, bottom: 0 } },
        plugins: {
          legend: { display: false },
          tooltip: { enabled: false },
          title: {
            display: true,
            text: titleText,
            fullSize: false,
            color: "#000",
            font: { family: FONT, size: 50, weight: "normal", lineHeight: 1.2 },
            padding: { top: 35.7, bottom: 12.3 },
          },
        },
        scales: {
          x: {
            type: "linear",
            min: waveLimits[0],
            max: waveLimits[1],
            afterBuildTicks: (scale: any) => {
              scale.ticks = xTickValues.map((v) => ({ value: v }));
            },
            afterFit: (scale: any) => {
              scale.height = 99;
            },
            ticks: {
              color: "#000",
              font: { family: FONT, size: 27.8 },
              padding: 11.3,
              maxRotation: 0,
              autoSkip: false,
              callback: (v: any) => String(v),
            },
            grid: tickGrid,
            border: { display: false },
            title: {
              display: true,
              text: xLabel,
              color: "#000",
              font: { family: FONT, size: 33.3, lineHeight: 1.2 },
              padding: { top: 0, bottom: 3.5 },
            },
          },
          y: {
            type: "linear",
            min: fluxLimits[0],
            max: fluxLimits[1],
            afterBuildTicks: (scale: any) => {
              scale.ticks = yTickValues.map((v) => ({ value: v }));
            },
            afterFit: (scale: any) => {
              scale.width = 375;
            },
            ticks: {
              color: "#000",
              font: { family: FONT, size: 33.3 },
              padding: 19,
              autoSkip: false,
              callback: (v: any) => (v < 0 ? "\u2212" : "") + Math.abs(Number(v)).toFixed(1),
            },
            grid: tickGrid,
            border: { display: false },
          },
        },
      },
      plugins: [yLabelPlugin, framePlugin],
    } as any);

    return () => {
      myChart.destroy();
    };
  }, []);

  return (
    <div style={{ position: "absolute", left: 0, top: 0, width: 3000, height: 900, background: "#ffffff" }}>
      <canvas ref={chartRef} width={3000} height={900} />
    </div>
  );
};

export default App;
